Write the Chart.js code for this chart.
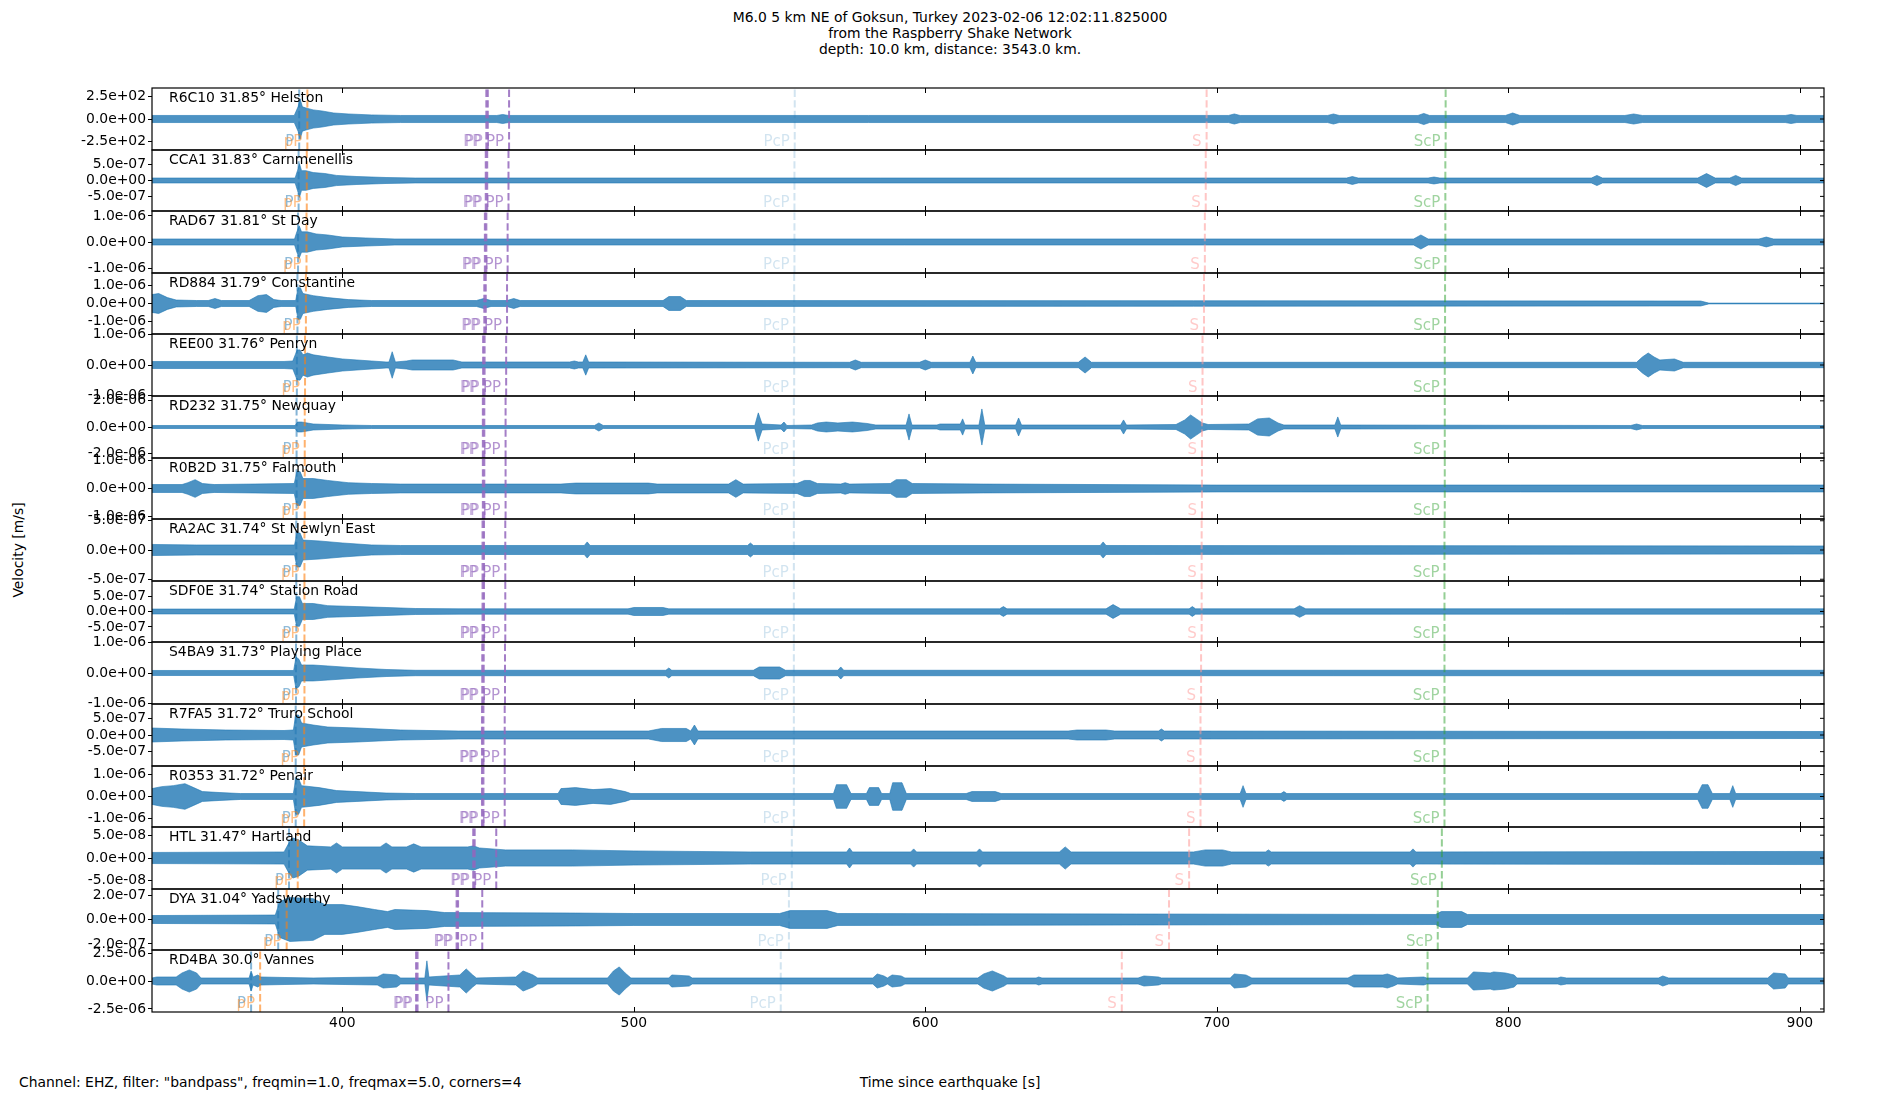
<!DOCTYPE html>
<html><head><meta charset="utf-8">
<script src="https://cdn.jsdelivr.net/npm/chart.js@4.4.1/dist/chart.umd.min.js"></script>
<style>
html,body{margin:0;padding:0;background:#fff;}
#wrap{position:relative;width:1900px;height:1100px;overflow:hidden;font-family:"DejaVu Sans",sans-serif;color:#000;}
.txt{position:absolute;font-size:13.9px;line-height:16px;white-space:nowrap;}
.pane{position:absolute;left:0;}
</style></head>
<body><div id="wrap">
<div class="txt" style="left:0;top:9px;width:1900px;text-align:center;">M6.0 5 km NE of Goksun, Turkey 2023-02-06 12:02:11.825000<br>from the Raspberry Shake Network<br>depth: 10.0 km, distance: 3543.0 km.</div>
<div class="txt" style="left:19px;top:1074px;">Channel: EHZ, filter: "bandpass", freqmin=1.0, freqmax=5.0, corners=4</div>
<div class="txt" style="left:0;top:1074px;width:1900px;text-align:center;">Time since earthquake [s]</div>
<div class="txt" style="left:18px;top:550px;transform:translate(-50%,-50%) rotate(-90deg);">Velocity [m/s]</div>
</div>
<script>
// ---------------- data ----------------
const T_START = 334.7, T_END = 908.3;
const X_TICKS = [400, 500, 600, 700, 800, 900];
const STATIONS = ['R6C10 31.85° Helston','CCA1 31.83° Carnmenellis','RAD67 31.81° St Day','RD884 31.79° Constantine',
 'REE00 31.76° Penryn','RD232 31.75° Newquay','R0B2D 31.75° Falmouth','RA2AC 31.74° St Newlyn East',
 'SDF0E 31.74° Station Road','S4BA9 31.73° Playing Place','R7FA5 31.72° Truro School','R0353 31.72° Penair',
 'HTL 31.47° Hartland','DYA 31.04° Yadsworthy','RD4BA 30.0° Vannes'];
// unit of the stored amplitude values for each trace (counts for R6C10, m/s otherwise)
const UNIT   = [1, 1e-8, 1e-8, 1e-8, 1e-8, 1e-8, 1e-8, 1e-8, 1e-8, 1e-8, 1e-8, 1e-8, 1e-9, 1e-9, 1e-8];
const Y_LIMIT = [350, 96, 119, 171, 100.5, 237, 110, 53, 99, 101, 93, 139, 68, 250, 277];
const Y_STEP  = [250, 50, 100, 100, 100, 200, 100, 50, 50, 100, 50, 100, 50, 200, 250];
const PHASE_NAMES = ['P','pP','PP','PP','PP','PcP','S','ScP'];
const ARRIVALS = [
 [385.2,388.0,449.4,449.9,457.2,555.2,696.5,778.5],
 [385.0,387.8,449.2,449.7,457.0,555.1,696.2,778.4],
 [384.8,387.7,448.9,449.4,456.7,555.1,695.9,778.4],
 [384.6,387.5,448.7,449.2,456.5,555.0,695.6,778.3],
 [384.4,387.2,448.3,448.8,456.2,555.0,695.1,778.2],
 [384.3,387.1,448.2,448.7,456.0,554.9,694.9,778.2],
 [384.3,387.1,448.2,448.7,456.0,554.9,694.9,778.2],
 [384.2,387.0,448.1,448.6,455.9,554.9,694.8,778.1],
 [384.2,387.0,448.1,448.6,455.9,554.9,694.8,778.1],
 [384.1,387.0,448.0,448.5,455.8,554.9,694.6,778.1],
 [384.0,386.9,447.9,448.4,455.7,554.9,694.4,778.1],
 [384.0,386.9,447.9,448.4,455.7,554.9,694.4,778.1],
 [381.7,384.7,444.9,445.4,452.8,554.2,690.5,777.2],
 [378.0,380.9,439.2,439.7,448.0,553.2,683.6,775.8],
 [368.7,371.8,425.3,425.8,436.4,550.4,667.4,772.3]];
// trace envelopes: [time s, half amplitude in UNIT]
const ENV_R6C10 = [[334.7,40],[383.5,40],[384.8,137],[385.5,228],[386.3,137],[387.5,125],[390,103],[393,91],[397,68],[402,57],[410,46],[420,40],[453,40],[455,51],[457,40],[704,40],[706,57],[708,40],[738,40],[740,57],[742,40],[769,40],[771,63],[773,40],[799,40],[801.5,68],[804,40],[840,40],[843,57],[846,40],[895,40],[897,51],[899,40],[908.3,40]];
const ENV_CCA1 = [[334.7,7.8],[383.8,7.8],[384.6,31],[385.3,53],[386,31],[387.5,31],[390,25],[394,22],[398,16],[405,12.5],[415,9.4],[425,7.8],[744.5,7.8],[746.5,12.5],[748.5,7.8],[772.5,7.8],[774.5,11],[776.5,7.8],[828.5,7.8],[830.4,16],[832.3,7.8],[865,7.8],[868,22],[871,7.8],[876,7.8],[878,16],[880,7.8],[908.3,7.8]];
const ENV_RAD67 = [[334.7,11.6],[383.6,11.6],[384.4,39],[385.2,62],[386,39],[388,39],[391,31],[395,27],[400,19],[408,15.5],[418,11.6],[767.5,11.6],[770,27],[772.5,11.6],[886,11.6],[888.5,19],[891,11.6],[908.3,11.6]];
const ENV_RD884 = [[334.7,50],[337,56],[340,33],[343,19.5],[350,16.7],[354,16.7],[356.3,28],[358.5,16.7],[368,16.7],[371,44],[374,50],[376.5,22],[379,16.7],[384,16.7],[384.8,89],[385.6,89],[386.5,56],[390,44],[395,33],[402,22],[410,16.7],[446,16.7],[448.5,28],[451,16.7],[456.5,16.7],[458.8,28],[461,16.7],[510,16.7],[512,39],[516,39],[518,16.7],[866,14],[868.8,2.2],[908.3,2.2]];
const ENV_REE00 = [[334.7,11.4],[380,11.4],[383,13],[384.5,49],[385.5,49],[386.5,33],[388,39],[390,33],[395,26],[400,19.6],[410,13],[415,9.8],[416,9.8],[417.1,43],[418.2,9.8],[422,13],[424,16.3],[438,16.3],[441,9.8],[478,9.8],[479.6,13],[481,9.8],[482.5,9.8],[483.5,33],[484.5,9.8],[574,8.8],[576,16.3],[578,8.8],[598,8.8],[600,16.3],[602,8.8],[615.3,8.8],[616.3,29],[617.3,8.8],[652.5,8.8],[654.8,26],[657,8.8],[844,8.8],[846,26],[848,39],[850,26],[852,16.3],[857,19.6],[860,8.8],[908.3,8.8]];
const ENV_RD232 = [[334.7,11.5],[383.8,11.5],[384.6,38],[386,38],[390,23],[400,15.4],[410,11.5],[486.5,11.5],[488,31],[489.5,11.5],[541.5,11.5],[542.7,108],[544,23],[550.5,15.4],[551.5,38],[552.5,11.5],[561,15.4],[563,31],[566,38],[570,31],[575,38],[580,27],[583,15.4],[593.4,15.4],[594.4,100],[595.4,15.4],[604,15.4],[605,23],[612,23],[612.8,62],[613.6,15.4],[618.4,15.4],[619.4,138],[620.4,15.4],[631,15.4],[632,69],[633,15.4],[667,15.4],[668,54],[669,15.4],[686,19],[689,54],[691,92],[693,62],[695,31],[697,19],[711,23],[714,62],[718,69],[721,31],[723,15.4],[740.5,15.4],[741.5,77],[742.5,15.4],[842,11.5],[844,23],[846,11.5],[908.3,11.5]];
const ENV_R0B2D = [[334.7,14.3],[345,14.3],[347,21],[349.5,32],[352,18],[356,14.3],[383.5,18],[384.4,61],[385.5,61],[386.5,36],[390,36],[395,29],[402,21],[410,18],[420,16],[475,16],[480,19.6],[505,19.6],[508,16],[532.5,16],[535,32],[537.5,16],[556,18],[558.5,29],[560.5,29],[563,18],[571,16],[572.5,21],[574,16],[588,18],[590,32],[593.5,32],[595.5,18],[620,16],[700,12.5],[908.3,12.5]];
const ENV_RA2AC = [[334.7,9.5],[350,8.6],[383.6,8.6],[384.4,29],[385.5,29],[386.5,17],[392,15.5],[400,12],[410,8.6],[420,7.7],[483,7.7],[484,13.8],[485,7.7],[539,7.7],[540,12],[541,7.7],[660,7.7],[661,13.8],[662,7.7],[908.3,6.9]];
const ENV_SDF0E = [[334.7,8],[383.5,8],[384.3,48],[385.3,48],[386.3,26],[390,26],[395,19],[405,16],[415,13],[425,9.7],[440,8.7],[498,8.7],[500,13],[510,13],[512,8.7],[625.5,8.7],[626.8,16],[628,8.7],[662,8.7],[664.4,22.6],[667,8.7],[690.5,8.7],[691.6,16],[692.7,8.7],[726.5,8.7],[728.4,19],[730.5,8.7],[908.3,8.7]];
const ENV_S4BA9 = [[334.7,8.2],[383.3,8.2],[384.1,52],[385.1,45],[386,26],[390,26],[395,23],[405,16.4],[415,11.5],[425,8.9],[511,8.9],[512,16.4],[513,8.9],[541,8.9],[543,19.7],[550,19.7],[552,8.9],[570,8.9],[571,19.7],[572,8.9],[908.3,8.9]];
const ENV_R7FA5 = [[334.7,21],[345,18],[360,15],[380,13.5],[383.2,15],[384,60],[385,60],[386,36],[390,30],[395,24],[405,21],[420,15],[440,12],[505,12],[509.5,19.6],[518,19.6],[519.5,12],[520.8,30],[522,12],[649,12],[652,15],[662,15],[665,12],[680,12],[681,18],[682,12],[908.3,10.5]];
const ENV_R0353 = [[334.7,36],[338,45],[342,49.5],[346,58.5],[349,40.5],[352,22.5],[358,18],[365,13.5],[383.2,13.5],[384,81],[385,81],[386,49.5],[392,40.5],[398,27],[405,22.5],[415,15.8],[425,13.5],[474,13.5],[475,36],[480,40.5],[486,31.5],[492,36],[497,22.5],[499,13.5],[568.5,13.5],[569.5,54],[573,54],[574.5,13.5],[579.8,13.5],[580.8,40.5],[584,40.5],[585,13.5],[587.8,13.5],[588.8,63],[592,63],[593.5,13.5],[614,13.5],[616,22.5],[624,22.5],[626,13.5],[708,13.5],[709,49.5],[710,13.5],[722,13.5],[723,22.5],[724,13.5],[865,13.5],[866.5,54],[868.5,54],[870,13.5],[876,13.5],[877,49.5],[878,13.5],[908.3,13.5]];
const ENV_HTL = [[334.7,12.2],[380,13.3],[381.5,31],[383,44],[385,40],[388,26.6],[396,24.4],[398,33],[400,24.4],[413,24.4],[415,33],[417,24.4],[422,24.4],[424.5,31],[427,24.4],[443,24.4],[445,26.6],[447,22],[456,17.8],[479,17.8],[500,15.5],[540,13.3],[573,13.3],[574,22],[575,13.3],[595,13.3],[596,20],[597,13.3],[617.6,13.3],[618.6,20],[619.6,13.3],[646,13.3],[648,24.4],[650,13.3],[692,13.3],[696,17.8],[702,17.8],[705,13.3],[716.7,13.3],[717.7,17.8],[718.7,13.3],[766.3,13.3],[767.3,20],[768.3,13.3],[908.3,14.4]];
const ENV_DYA = [[334.7,32.6],[377,36.7],[378.5,147],[382,180],[390,171],[394,122],[400,122],[405,106],[411,82],[415.5,65],[418,82],[429,73],[435,57],[480,53],[500,49],[550,49],[553.6,73],[566.3,73],[570,49],[775,41],[777,65],[784,65],[786,41],[908.3,41]];
const ENV_RD4BA = [[334.7,27],[336.3,36],[343,36],[345,72],[347.5,99],[350,72],[351.5,27],[368,27],[368.7,90],[369.4,36],[371,54],[372,36],[380,31.5],[390,27],[412,36],[414,63],[418.6,54],[420,27],[428.3,27],[429,180],[429.7,36],[440.3,54],[442.5,108],[444.7,54],[446,27],[459.5,36],[462,90],[465.4,54],[467,27],[491,27],[493,90],[495,126],[497,72],[499,27],[512,27],[513,54],[519,45],[520,27],[582,27],[583.5,63],[585.8,45],[587,27],[588.6,54],[591.7,45],[593,27],[618,27],[620,63],[623,90],[627,45],[628,27],[638,27],[638.9,36],[640,27],[673,27],[675,45],[680,36],[681,27],[704.6,27],[706,63],[710,54],[712,27],[745,27],[747,54],[757,54],[758.5,63],[760.6,45],[762,27],[771,36],[772,27],[786,27],[788,81],[793.8,72],[795,81],[799,72],[802,54],[803,27],[817,27],[818,36],[820,27],[851.5,27],[853,45],[855,27],[889,27],[891,72],[895,63],[896,27],[908.3,27]];
const ENVELOPES = [ENV_R6C10, ENV_CCA1, ENV_RAD67, ENV_RD884, ENV_REE00, ENV_RD232, ENV_R0B2D, ENV_RA2AC,
  ENV_SDF0E, ENV_S4BA9, ENV_R7FA5, ENV_R0353, ENV_HTL, ENV_DYA, ENV_RD4BA];

// ---------------- style / layout ----------------
const FONT = '"DejaVu Sans", sans-serif';
const TRACE_COLOR = '#1f77b4';
const TRACE_FILL = 'rgba(31,119,180,0.8)';
const PHASE_LINE_COLORS = ['rgba(31,119,180,0.55)','rgba(255,127,14,0.6)','rgba(148,103,189,0.85)','rgba(148,103,189,0.85)',
  'rgba(148,103,189,0.85)','rgba(31,119,180,0.2)','rgba(255,152,150,0.55)','rgba(44,160,44,0.5)'];
const PHASE_TEXT_COLORS = ['rgba(31,119,180,0.5)','rgba(255,127,14,0.5)','rgba(148,103,189,0.55)','rgba(148,103,189,0.55)',
  'rgba(148,103,189,0.7)','rgba(31,119,180,0.2)','rgba(255,152,150,0.5)','rgba(44,160,44,0.45)'];
const PLOT_LEFT = 152, PLOT_RIGHT = 1824, PLOT_TOP = 88, PLOT_BOTTOM = 1012, PAD = 14, XAXIS_H = 30;
const N = STATIONS.length, PANEL_H = (PLOT_BOTTOM - PLOT_TOP) / N;

function fmtExp(v) {
  if (Math.abs(v) < 1e-30) return '0.0e+00';
  let s = v.toExponential(1);
  let [m, e] = s.split('e');
  const sign = e[0] === '-' ? '-' : '+';
  e = e.replace(/[+-]/, '');
  if (e.length < 2) e = '0' + e;
  return m + 'e' + sign + e;
}

const decor = {
  id: 'decor',
  afterDatasetsDraw(chart) {
    const o = chart.options.plugins.decor;
    const { ctx, chartArea: a } = chart;
    const x = chart.scales.x, y = chart.scales.y;
    ctx.save();
    ctx.font = '15px ' + FONT;
    ctx.textAlign = 'right';
    ctx.textBaseline = 'alphabetic';
    o.arrivals.forEach((t, k) => {
      ctx.fillStyle = PHASE_TEXT_COLORS[k];
      ctx.fillText(PHASE_NAMES[k], x.getPixelForValue(t) - 5, a.bottom - 3.7);
    });
    ctx.font = '13.9px ' + FONT;
    ctx.fillStyle = '#000';
    ctx.textAlign = 'left';
    ctx.fillText(o.station, a.left + 17, a.top + 13.5);
    ctx.strokeStyle = '#000';
    ctx.lineWidth = 1.2;
    ctx.strokeRect(a.left, a.top, a.right - a.left, a.bottom - a.top);
    ctx.lineWidth = 1;
    ctx.beginPath();
    X_TICKS.forEach(v => {
      const px = Math.round(x.getPixelForValue(v)) + 0.5;
      ctx.moveTo(px, a.top); ctx.lineTo(px, a.top + 5);
      ctx.moveTo(px, a.bottom); ctx.lineTo(px, a.bottom - 5);
    });
    y.ticks.forEach(tk => {
      const py = y.getPixelForValue(tk.value);
      ctx.moveTo(a.right, py); ctx.lineTo(a.right - 4, py);
    });
    ctx.stroke();
    ctx.restore();
  }
};

const wrap = document.getElementById('wrap');
for (let i = 0; i < N; i++) {
  const top = Math.round(PLOT_TOP + PANEL_H * i);
  const bot = Math.round(PLOT_TOP + PANEL_H * (i + 1));
  const h = bot - top;
  const last = i === N - 1;
  const H = h + PAD * 2 + (last ? XAXIS_H : 0);
  const div = document.createElement('div');
  div.className = 'pane';
  div.style.top = (top - PAD) + 'px';
  div.style.width = '1900px';
  div.style.height = H + 'px';
  const cv = document.createElement('canvas');
  cv.width = 1900; cv.height = H;
  cv.style.width = '1900px'; cv.style.height = H + 'px';
  div.appendChild(cv);
  wrap.appendChild(div);

  const L = Y_LIMIT[i], st = Y_STEP[i], unit = UNIT[i];
  const datasets = [];
  ARRIVALS[i].forEach((t, k) => {
    datasets.push({
      data: [{ x: t, y: -L }, { x: t, y: L }],
      borderColor: PHASE_LINE_COLORS[k], borderWidth: 2, borderDash: [7.4, 3.2],
      pointRadius: 0, fill: false, tension: 0
    });
  });
  const env = ENVELOPES[i];
  datasets.push({
    data: env.map(p => ({ x: p[0], y: p[1] })),
    borderColor: TRACE_COLOR, borderWidth: 0.6, pointRadius: 0, fill: false, tension: 0
  });
  datasets.push({
    data: env.map(p => ({ x: p[0], y: -p[1] })),
    borderColor: TRACE_COLOR, borderWidth: 0.6, pointRadius: 0, tension: 0,
    backgroundColor: TRACE_FILL, fill: '-1'
  });

  const xScale = {
    type: 'linear', min: T_START, max: T_END, display: last, position: 'bottom',
    afterBuildTicks: s => { s.ticks = X_TICKS.map(v => ({ value: v })); },
    grid: { display: false, drawTicks: false }, border: { display: false },
    ticks: { padding: 3, color: '#000', font: { family: FONT, size: 13.9 }, callback: v => String(v), maxRotation: 0, autoSkip: false }
  };
  if (last) xScale.afterFit = s => { s.height = XAXIS_H; };

  new Chart(cv, {
    type: 'line',
    data: { datasets },
    options: {
      responsive: false, animation: false, events: [],
      layout: { padding: { left: PLOT_LEFT - 140, right: 1900 - PLOT_RIGHT, top: PAD, bottom: PAD } },
      plugins: {
        legend: { display: false }, tooltip: { enabled: false },
        filler: { propagate: false },
        decor: { station: STATIONS[i], arrivals: ARRIVALS[i] }
      },
      scales: {
        x: xScale,
        y: {
          type: 'linear', min: -L, max: L,
          afterFit: s => { s.width = 140; },
          afterBuildTicks: s => { s.ticks = [st, 0, -st].map(v => ({ value: v })); },
          grid: { drawOnChartArea: false, drawTicks: true, tickLength: 4, color: '#000', tickColor: '#000', lineWidth: 1 },
          border: { display: false },
          ticks: { padding: 2, autoSkip: false, color: '#000', font: { family: FONT, size: 13.9 }, callback: v => fmtExp(v * unit) }
        }
      }
    },
    plugins: [decor]
  });
}
</script>
</body></html>
